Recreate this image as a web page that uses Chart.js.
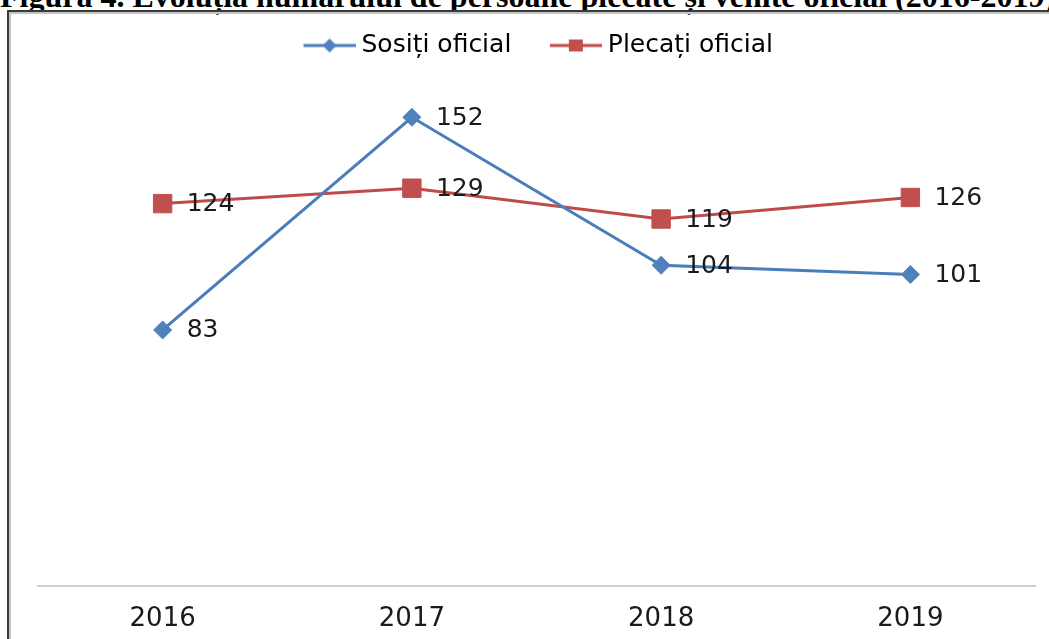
<!DOCTYPE html>
<html>
<head>
<meta charset="utf-8">
<title>Sosiți și plecați oficial</title>
<script src="https://cdn.jsdelivr.net/npm/chart.js@4.4.0/dist/chart.umd.min.js"></script>
<style>
  html, body { margin: 0; padding: 0; background: #fff; overflow: hidden; }
  body { width: 1049px; height: 639px; position: relative; }
  #title {
    position: absolute; left: 0; top: -20px; white-space: nowrap;
    font: bold 32px "Liberation Serif", serif; line-height: 32px; color: #000;
  }
  #frame {
    position: absolute; left: 7px; top: 10px; width: 1100px; height: 700px;
    border-top: 2px solid #3c3c3c; border-left: 2px solid #3c3c3c;
    box-shadow: inset 2px 2px 0 #c4c4c4;
  }
  #chart { position: absolute; left: 0; top: 0; }
</style>
</head>
<body>
<div id="title">Figura 4. Evoluția numărului de persoane plecate și venite oficial (2016-2019)</div>
<div id="frame"></div>
<canvas id="chart" width="1049" height="639"></canvas>
<script>
// data
const years = ['2016', '2017', '2018', '2019'];
const sositi = [83, 152, 104, 101];
const plecati = [124, 129, 119, 126];
const seriesNames = ['Sosiți oficial', 'Plecați oficial'];

const BLUE = '#4F81BD', BLUE_LINE = '#4A7EBB';
const RED = '#C0504D', RED_LINE = '#BE4B48';
const FONT = '"DejaVu Sans", sans-serif';

// legend icon: line with the marker in the middle, like Excel does
function legendIcon(lineColor, fill, shape) {
  const c = document.createElement('canvas');
  c.width = 77; c.height = 22;
  const g = c.getContext('2d');
  g.strokeStyle = lineColor;
  g.lineWidth = 3;
  g.beginPath(); g.moveTo(25, 11); g.lineTo(77, 11); g.stroke();
  g.fillStyle = fill;
  const cx = 51;
  if (shape === 'diamond') {
    g.beginPath();
    g.moveTo(cx, 4); g.lineTo(cx + 7, 11); g.lineTo(cx, 18); g.lineTo(cx - 7, 11);
    g.closePath(); g.fill();
  } else {
    g.fillRect(cx - 7, 5, 14, 12);
  }
  return c;
}
const icons = [legendIcon(BLUE_LINE, BLUE, 'diamond'), legendIcon(RED_LINE, RED, 'square')];

// numbers to the right of each point
const valueLabels = {
  id: 'valueLabels',
  afterDatasetsDraw(chart) {
    const ctx = chart.ctx;
    ctx.save();
    ctx.font = '25px ' + FONT;
    ctx.fillStyle = '#1a1a1a';
    ctx.textAlign = 'left';
    ctx.textBaseline = 'middle';
    chart.data.datasets.forEach((ds, i) => {
      chart.getDatasetMeta(i).data.forEach((pt, j) => {
        ctx.fillText(String(ds.data[j]), pt.x + 24, pt.y + 1);
      });
    });
    ctx.restore();
  }
};

// the icons carry blank space on their left, nudge the legend back a bit
const legendNudge = {
  id: 'legendNudge',
  afterLayout(chart) {
    chart.legend.left -= 9;
    chart.legend.right -= 9;
  }
};

new Chart(document.getElementById('chart').getContext('2d'), {
  type: 'line',
  data: {
    labels: years,
    datasets: [{
      label: seriesNames[0],
      data: sositi,
      borderColor: BLUE_LINE,
      backgroundColor: BLUE,
      borderWidth: 3,
      pointStyle: 'rectRot',
      pointRadius: 9,
      pointBackgroundColor: BLUE,
      pointBorderColor: BLUE,
      pointBorderWidth: 1,
      tension: 0
    }, {
      label: seriesNames[1],
      data: plecati,
      borderColor: RED_LINE,
      backgroundColor: RED,
      borderWidth: 3,
      pointStyle: 'rect',
      pointRadius: 13,
      pointBackgroundColor: RED,
      pointBorderColor: RED,
      pointBorderWidth: 1,
      tension: 0
    }]
  },
  options: {
    responsive: false,
    animation: false,
    devicePixelRatio: 1,
    layout: { padding: { left: 38, right: 11, top: 13, bottom: -14 } },
    plugins: {
      tooltip: { enabled: false },
      legend: {
        position: 'top',
        labels: {
          usePointStyle: true,
          pointStyleWidth: 64,
          padding: 20,
          color: '#1a1a1a',
          font: { family: FONT, size: 25 },
          generateLabels: (chart) => chart.data.datasets.map((ds, i) => ({
            text: ds.label,
            pointStyle: icons[i],
            fillStyle: ds.backgroundColor,
            strokeStyle: ds.borderColor,
            lineWidth: 0,
            hidden: false,
            datasetIndex: i
          }))
        }
      }
    },
    scales: {
      x: {
        offset: true,
        grid: { display: false, drawTicks: false },
        border: { display: true, color: '#cfcfcf', width: 2 },
        ticks: { color: '#1a1a1a', padding: 18, font: { family: FONT, size: 26 } }
      },
      y: {
        display: false,
        min: 0,
        max: 168
      }
    }
  },
  plugins: [valueLabels, legendNudge]
});
</script>
</body>
</html>
